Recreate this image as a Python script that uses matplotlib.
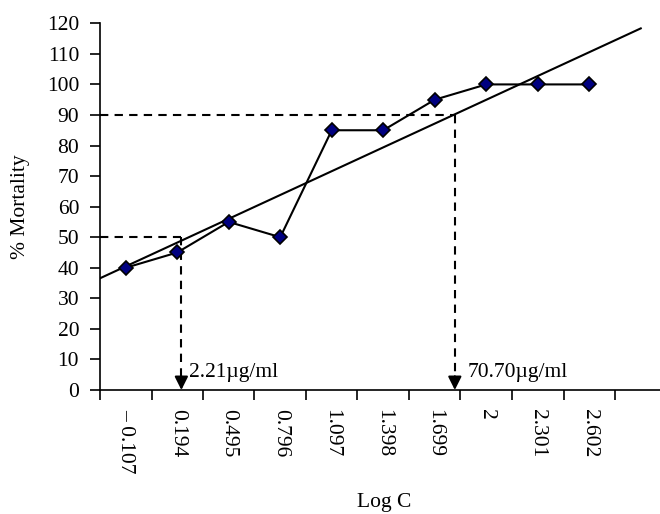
import matplotlib
matplotlib.use("Agg")
import matplotlib.pyplot as plt
import numpy as np

categories = ["\u2013 0.107", "0.194", "0.495", "0.796", "1.097", "1.398", "1.699", "2", "2.301", "2.602"]
mortality = [40, 45, 55, 50, 85, 85, 95, 100, 100, 100]
y_ticks = list(range(0, 121, 10))
lc50_label = "2.21\u00b5g/ml"
lc90_label = "70.70\u00b5g/ml"
lc_levels = [50, 90]

plt.rcParams['font.family'] = ['Liberation Serif', 'DejaVu Serif']
FS = 15.5

fig = plt.figure(figsize=(6.6, 5.14), dpi=100)
ax = fig.add_axes([100/660, 1-390/514, 1-100/660, (390-23.3)/514])

n = len(categories)
xc = np.arange(n) + 0.5

# Linear trendline (Excel style, x = 1..n), forecast forward 1 period
xe = np.arange(1, n + 1)
slope, intercept = np.polyfit(xe, mortality, 1)
tx = np.array([0.5, n + 1.0])
ax.plot(tx - 0.5, intercept + slope * tx, color='black', lw=1.5, zorder=2)

ax.plot(xc, mortality, color='black', lw=1.5, marker='D', ms=6.8,
        mfc='#000080', mec='black', mew=1.2, zorder=3)

# LC50 / LC90 guides
lc_x = [1.58, 6.89]
text_x = [1.72, 7.13]
labels = [lc50_label, lc90_label]
for lvl, xx, tx_, lab in zip(lc_levels, lc_x, text_x, labels):
    ax.plot([0, xx], [lvl, lvl], color='black', lw=1.5, ls=(0, (4, 3)), zorder=1)
    ax.plot([xx, xx], [lvl, 4.0], color='black', lw=1.5, ls=(0, (4, 3)), zorder=1)
    ax.annotate('', xy=(xx, 0), xytext=(xx, 4.5),
                arrowprops=dict(arrowstyle='-|>,head_length=0.8,head_width=0.4',
                                color='black', lw=1.5, shrinkA=0, shrinkB=0), zorder=4)
    ax.text(tx_, 2.6, lab, fontsize=FS, ha='left', va='bottom')

ax.set_xlim(0, (660 - 100) / 51.5)
ax.set_ylim(0, 120)
ax.set_yticks(y_ticks)
ax.set_yticklabels([str(v) for v in y_ticks], fontsize=FS)
ax.set_xticks(np.arange(0, n + 1))
ax.set_xticklabels([])
ax.set_xticks(xc, minor=True)
ax.set_xticklabels(categories, minor=True, rotation=270, fontsize=FS, va='top', ha='center')
ax.tick_params(axis='x', which='minor', length=0, pad=14)
ax.tick_params(axis='x', which='major', length=7, width=1.2, direction='out')
ax.tick_params(axis='y', length=7, width=1.2, direction='out', pad=8)

for s in ['top', 'right']:
    ax.spines[s].set_visible(False)
for s in ['left', 'bottom']:
    ax.spines[s].set_linewidth(1.2)

ax.set_ylabel('% Mortality', fontsize=FS, labelpad=12)
fig.text(384/660, 1-502/514, 'Log C', fontsize=FS, ha='center', va='center')

fig.savefig('out.png', dpi=100)
